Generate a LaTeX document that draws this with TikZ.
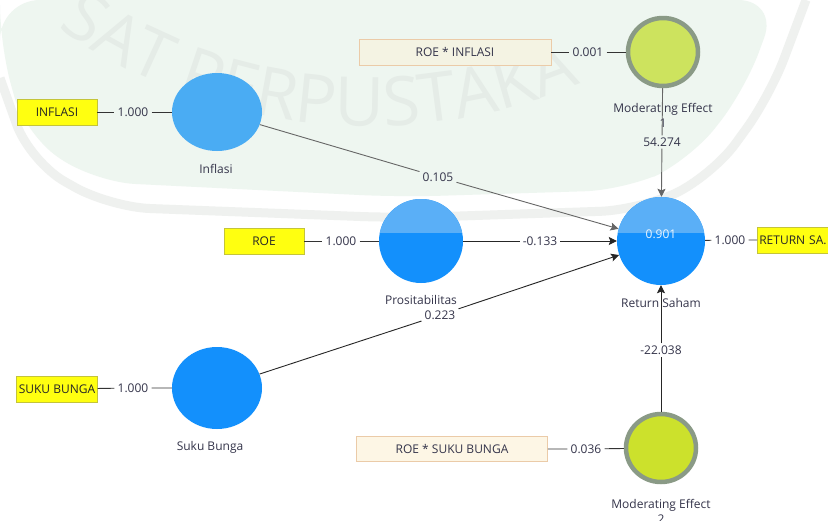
\documentclass[tikz,border=0pt]{standalone}
\usepackage{fontspec}
\setmainfont{Open Sans}
\usepackage{tikz}
\usetikzlibrary{arrows.meta,calc,positioning,shapes.geometric,decorations.text}
\definecolor{bgmint}{HTML}{EEF6F0}
\definecolor{bgband}{HTML}{EFF1EF}
\definecolor{wmgray}{HTML}{E5ECE7}
\definecolor{lvlight}{HTML}{4AACF3}
\definecolor{lvtop}{HTML}{5AAFF7}
\definecolor{lvdeep}{HTML}{1390FC}
\definecolor{indyellow}{HTML}{FFFF10}
\definecolor{indedge}{HTML}{C4C43A}
\definecolor{megreen}{HTML}{CDE35E}
\definecolor{megreenb}{HTML}{CCE12C}
\definecolor{meedge}{HTML}{8A9A86}
\definecolor{intfill}{HTML}{F4F3E3}
\definecolor{intfillb}{HTML}{FDF6E5}
\definecolor{intedge}{HTML}{EBCBA8}
\definecolor{txtdark}{HTML}{34344A}
\tikzset{
  latent/.style={ellipse,inner sep=0pt,draw=none},
  splitlatent/.style={latent,fill=lvdeep,path picture={\fill[lvtop] (path picture bounding box.north west) rectangle ($(path picture bounding box.east)+(0,8pt)$);}},
  modlatent/.style={ellipse,inner sep=0pt,minimum width=70pt,minimum height=68pt,draw=meedge,line width=4.5pt},
  indbox/.style={rectangle,draw=indedge,fill=indyellow,line width=0.6pt,minimum width=80pt,minimum height=26pt,inner sep=2pt,font=\fontsize{12}{14}\selectfont,text=black!85},
  intbox/.style={rectangle,draw=intedge,fill=intfill,line width=0.8pt,minimum width=192pt,minimum height=26pt,inner sep=2pt,font=\fontsize{12}{14}\selectfont,text=txtdark},
  weight/.style={inner xsep=3pt,inner ysep=2pt,font=\fontsize{12}{14}\selectfont,text=txtdark},
  caption/.style={align=center,font=\fontsize{12}{15}\selectfont,text=txtdark},
  loading/.style={draw=black!80,line width=0.9pt},
  relpath/.style={-{Stealth[length=8pt,width=8pt,inset=1.5pt]},line width=0.9pt,draw=black!85},
  relpathgray/.style={relpath,draw=black!60}
}

\begin{document}
\begin{tikzpicture}[x=1pt,y=-1pt]
\useasboundingbox (0,0) rectangle (828,520);
\fill[white] (0,0) rectangle (828,520);
\fill[bgmint,rounded corners=40pt] (0,0) -- (0,45) -- (25,135) -- (95,182) -- (400,197) -- (625,190) -- (690,160) -- (745,90) -- (778,0) -- cycle;
\draw[bgband,line width=9pt,rounded corners=40pt] (0,78) -- (30,162) -- (110,207) -- (400,218) -- (640,210) -- (712,176) -- (770,96) -- (806,0);
\path[decorate,decoration={text along path,text={|\fontsize{68}{68}\selectfont\color{wmgray}|SAT PERPUSTAKA}}] (370,-419) ++(125:545) arc[start angle=125,end angle=40,radius=545];

\node[latent,fill=lvlight,minimum width=90pt,minimum height=78pt] (inflasi) at (217,112) {};
\node[splitlatent,minimum width=84pt,minimum height=84pt] (prosit) at (421,241) {};
\node[latent,fill=lvdeep,minimum width=90pt,minimum height=82pt] (suku) at (217,388) {};
\node[splitlatent,minimum width=88pt,minimum height=88pt] (ret) at (661,241) {};
\node[modlatent,fill=megreen] (modA) at (663,52) {};
\node[modlatent,fill=megreenb] (modB) at (661,448) {};

\node[indbox] (inflasiInd) at (57,112) {INFLASI};
\node[indbox] (roeInd) at (264,241) {ROE};
\node[indbox] (sukuInd) at (57,389) {SUKU BUNGA};
\node[indbox,anchor=west,text width=76pt,align=left] (retInd) at (757,240) {RETURN SA.};
\node[intbox] (modAInd) at (455,52) {ROE * INFLASI};
\node[intbox,fill=intfillb,minimum width=191pt,minimum height=25pt] (modBInd) at (452,449) {ROE * SUKU BUNGA};

\node[caption] (inflasiLbl) at (216,169) {Inflasi};
\node[caption] (prositLbl) at (421,300) {Prositabilitas};
\node[caption] (sukuLbl) at (210,447) {Suku Bunga};
\node[caption] (retLbl) at (661,303) {Return Saham};
\node[caption] (modALbl) at (663,115) {Moderating Effect\\1};
\node[caption] (modBLbl) at (661,511) {Moderating Effect\\2};
\node[caption,text=white!92!lvdeep] (r2) at (661,234) {0.901};

\node[weight] (wInflasi) at (133,112) {1.000};
\node[weight] (wRoe) at (341,241) {1.000};
\node[weight] (wSuku) at (133,388) {1.000};
\node[weight] (wRet) at (730,240) {1.000};
\node[weight] (wModA) at (588,52) {0.001};
\node[weight] (wModB) at (586,449) {0.036};
\node[weight] (wInfRet) at (438,177) {0.105};
\node[weight] (wProRet) at (540,241) {-0.133};
\node[weight] (wSukRet) at (440,315) {0.223};
\node[weight] (wModARet) at (662,142) {54.274};
\node[weight] (wModBRet) at (661,350) {-22.038};

\draw[loading] (inflasiInd) -- (wInflasi) -- (inflasi);
\draw[loading] (roeInd) -- (wRoe) -- (prosit);
\draw[loading] (sukuInd) -- (wSuku) -- (suku);
\draw[loading] (ret) -- (wRet) -- (retInd);
\draw[loading] (modAInd) -- (wModA) -- (modA);
\draw[loading] (modBInd) -- (wModB) -- (modB);
\draw[relpathgray] (inflasi) -- (wInfRet) -- (ret);
\draw[relpath] (prosit) -- (wProRet) -- (ret);
\draw[relpath] (suku) -- (wSukRet) -- (ret);
\draw[relpathgray] (modA) -- (wModARet) -- (ret);
\draw[relpath] (modB) -- (wModBRet) -- (ret);
\end{tikzpicture}
\end{document}
